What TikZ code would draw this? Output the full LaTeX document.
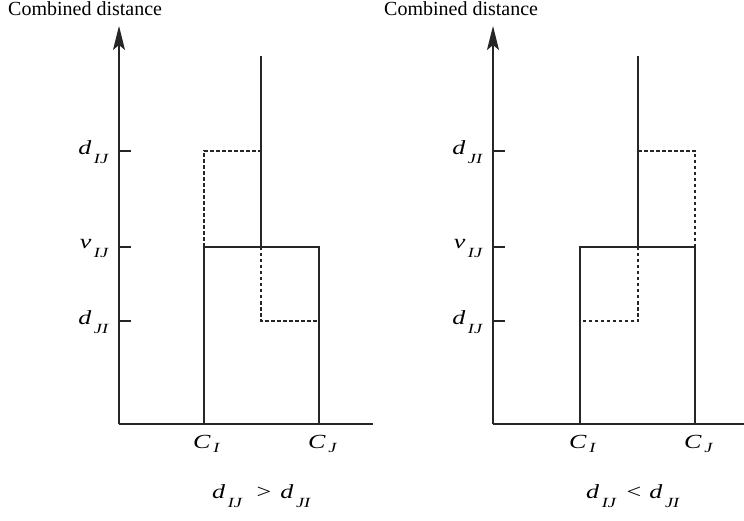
\documentclass[tikz,border=0pt]{standalone}
\usepackage{fontspec}
\usepackage{graphicx}
\setmainfont{Liberation Serif}
\usetikzlibrary{arrows.meta}
\newcommand{\lab}[3][-9pt]{\scalebox{1.3}[1]{\fontsize{20}{20}\selectfont\textit{#2}\kern2pt\raisebox{#1}{\fontsize{14}{14}\selectfont\textit{#3}}}}
\newcommand{\rel}[1]{\scalebox{1.3}[1]{\fontsize{20}{20}\selectfont #1}}
\tikzset{
  axis/.style={line width=1.3pt, draw=black!85},
  axisarrow/.style={axis, -{Stealth[length=24pt,width=12pt,inset=5pt]}},
  solidline/.style={line width=1.3pt, draw=black!85},
  dashline/.style={line width=1.2pt, draw=black!85, dash pattern=on 3.5pt off 2.5pt},
  lbl/.style={inner sep=0pt},
  ttl/.style={font=\fontsize{20}{20}\selectfont, inner sep=0pt, anchor=base west}
}
\begin{document}
\begin{tikzpicture}[x=1pt,y=-1pt]
\useasboundingbox (0,0) rectangle (744,521);
% ---------- left panel ----------
\coordinate (Lo) at (119,424);
\coordinate (Ltop) at (119,26);
\coordinate (Lxend) at (373,424);
\draw[axisarrow] (Lo) -- (Ltop);
\draw[axis] (Lo) -- (Lxend);
\coordinate (Lt1) at (119,151); \coordinate (Lt1e) at (131,151);
\coordinate (Lt2) at (119,247); \coordinate (Lt2e) at (131,247);
\coordinate (Lt3) at (119,321); \coordinate (Lt3e) at (131,321);
\draw[axis] (Lt1) -- (Lt1e);
\draw[axis] (Lt2) -- (Lt2e);
\draw[axis] (Lt3) -- (Lt3e);
\coordinate (LA) at (204,424); \coordinate (LB) at (204,247);
\coordinate (LC) at (319,247); \coordinate (LD) at (319,424);
\draw[solidline] (LA) -- (LB) -- (LC) -- (LD);
\coordinate (LSb) at (261,247); \coordinate (LSt) at (261,56);
\draw[solidline] (LSb) -- (LSt);
\coordinate (Ld1) at (204,151); \coordinate (Ld2) at (261,151);
\draw[dashline] (LB) -- (Ld1) -- (Ld2);
\coordinate (Ld3) at (261,321); \coordinate (Ld4) at (319,321);
\draw[dashline] (LSb) -- (Ld3) -- (Ld4);
\node[ttl] (Ltitle) at (8,16) {Combined distance};
\node[lbl, anchor=base east] (Ll1) at (109,155) {\lab{d}{IJ}};
\node[lbl, anchor=base east] (Ll2) at (109,249) {\lab{v}{IJ}};
\node[lbl, anchor=base east] (Ll3) at (109,324) {\lab{d}{JI}};
\node[lbl, anchor=base west] (LCI) at (193,448) {\lab[-4pt]{C}{I}};
\node[lbl, anchor=base west] (LCJ) at (308,448) {\lab[-4pt]{C}{J}};
\node[lbl, anchor=base west] (Lf) at (212,498) {\lab{d}{IJ}\hspace{14pt}\rel{>}\hspace{9pt}\lab{d}{JI}};
% ---------- right panel ----------
\coordinate (Ro) at (493,424);
\coordinate (Rtop) at (493,26);
\coordinate (Rxend) at (744,424);
\draw[axisarrow] (Ro) -- (Rtop);
\draw[axis] (Ro) -- (Rxend);
\coordinate (Rt1) at (493,151); \coordinate (Rt1e) at (505,151);
\coordinate (Rt2) at (493,247); \coordinate (Rt2e) at (505,247);
\coordinate (Rt3) at (493,321); \coordinate (Rt3e) at (505,321);
\draw[axis] (Rt1) -- (Rt1e);
\draw[axis] (Rt2) -- (Rt2e);
\draw[axis] (Rt3) -- (Rt3e);
\coordinate (RA) at (580,424); \coordinate (RB) at (580,247);
\coordinate (RC) at (695,247); \coordinate (RD) at (695,424);
\draw[solidline] (RA) -- (RB) -- (RC) -- (RD);
\coordinate (RSb) at (638,247); \coordinate (RSt) at (638,56);
\draw[solidline] (RSb) -- (RSt);
\coordinate (Rd1) at (638,151); \coordinate (Rd2) at (695,151);
\draw[dashline] (Rd1) -- (Rd2) -- (RC);
\coordinate (Rd3) at (638,321); \coordinate (Rd4) at (580,321);
\draw[dashline] (RSb) -- (Rd3) -- (Rd4);
\node[ttl] (Rtitle) at (384,16) {Combined distance};
\node[lbl, anchor=base east] (Rl1) at (483,155) {\lab{d}{JI}};
\node[lbl, anchor=base east] (Rl2) at (483,249) {\lab{v}{IJ}};
\node[lbl, anchor=base east] (Rl3) at (483,324) {\lab{d}{IJ}};
\node[lbl, anchor=base west] (RCI) at (569,448) {\lab[-4pt]{C}{I}};
\node[lbl, anchor=base west] (RCJ) at (684,448) {\lab[-4pt]{C}{J}};
\node[lbl, anchor=base west] (Rf) at (586,498) {\lab{d}{IJ}\hspace{10pt}\rel{<}\hspace{8pt}\lab{d}{JI}};
\end{tikzpicture}
\end{document}
